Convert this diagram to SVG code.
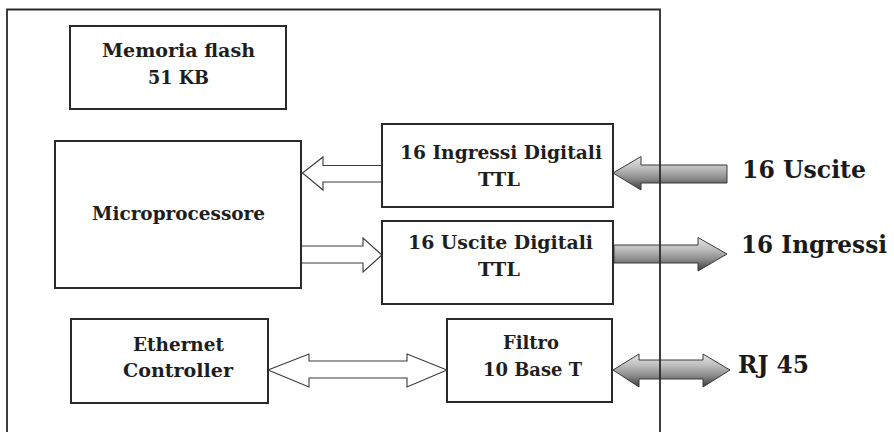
<svg xmlns="http://www.w3.org/2000/svg" width="894" height="432" viewBox="0 0 894 432">
  <defs>
    <style>
      .box { fill: #ffffff; stroke: #2a2a2a; stroke-width: 2; }
      .frame { fill: none; stroke: #2a2a2a; stroke-width: 1.8; }
      .hollow { fill: #ffffff; stroke: #3a3a3a; stroke-width: 1.1; stroke-linejoin: miter; }
      .solid { fill: url(#metal); stroke: #3a3a3a; stroke-width: 1; stroke-linejoin: miter; }
      .lbl { font-family: "DejaVu Serif", "Liberation Serif", serif; font-weight: bold; font-size: 19px; fill: #1e1e1e; text-anchor: middle; }
      .ext { font-family: "DejaVu Serif", "Liberation Serif", serif; font-weight: bold; font-size: 25px; fill: #1a1a1a; }
    </style>
    <linearGradient id="metal" x1="0" y1="0" x2="0" y2="1">
      <stop offset="0" stop-color="#e6e6e6"/>
      <stop offset="0.35" stop-color="#bdbdbd"/>
      <stop offset="0.65" stop-color="#8c8c8c"/>
      <stop offset="1" stop-color="#3c3c3c"/>
    </linearGradient>
  </defs>

  <rect width="894" height="432" fill="#ffffff"/>

  <!-- connectors -->
  <g id="connectors">
    <!-- inputs block to microprocessor -->
    <polygon class="hollow" points="382,165.5 323,165.5 323,157 302.5,173 323,190 323,182 382,182"/>
    <!-- microprocessor to outputs block -->
    <polygon class="hollow" points="301,246 363,246 363,238 382,255 363,272 363,263 301,263"/>
    <!-- ethernet controller to filter -->
    <polygon class="hollow" points="268,370 309,354 309,361 407,361 407,354 447,370 407,387 407,378 309,378 309,387"/>
    <!-- external lines -->
    <polygon class="solid" points="727,165 641,165 641,156.5 613,173 641,190 641,183 727,183"/>
    <polygon class="solid" points="614,245 698,245 698,237.5 727,254 698,271 698,263 614,263"/>
    <polygon class="solid" points="613,370 639,354 639,360 703,360 703,354 730,370 703,387 703,379 639,379 639,387"/>
  </g>

  <!-- enclosure outline -->
  <path class="frame" d="M7,432 V9.5 H660 V432"/>

  <g id="memoria-flash">
    <rect class="box" x="70" y="26" width="216" height="83"/>
    <text class="lbl" x="178.5" y="57" textLength="153" lengthAdjust="spacingAndGlyphs">Memoria flash</text>
    <text class="lbl" x="178.5" y="84" textLength="61" lengthAdjust="spacingAndGlyphs">51 KB</text>
  </g>

  <g id="microprocessore">
    <rect class="box" x="55" y="141" width="246" height="147"/>
    <text class="lbl" x="178.5" y="220" textLength="173" lengthAdjust="spacingAndGlyphs">Microprocessore</text>
  </g>

  <g id="ingressi-digitali">
    <rect class="box" x="382" y="124" width="231" height="83"/>
    <text class="lbl" x="501" y="159" textLength="202" lengthAdjust="spacingAndGlyphs">16 Ingressi Digitali</text>
    <text class="lbl" x="499" y="186" textLength="42" lengthAdjust="spacingAndGlyphs">TTL</text>
  </g>

  <g id="uscite-digitali">
    <rect class="box" x="382" y="221" width="231" height="83"/>
    <text class="lbl" x="500.5" y="249" textLength="185" lengthAdjust="spacingAndGlyphs">16 Uscite Digitali</text>
    <text class="lbl" x="499" y="276" textLength="42" lengthAdjust="spacingAndGlyphs">TTL</text>
  </g>

  <g id="ethernet-controller">
    <rect class="box" x="71" y="319" width="197" height="84"/>
    <text class="lbl" x="178.5" y="351" textLength="91" lengthAdjust="spacingAndGlyphs">Ethernet</text>
    <text class="lbl" x="178" y="377" textLength="110" lengthAdjust="spacingAndGlyphs">Controller</text>
  </g>

  <g id="filtro">
    <rect class="box" x="447" y="319" width="165" height="83"/>
    <text class="lbl" x="531" y="349" textLength="56" lengthAdjust="spacingAndGlyphs">Filtro</text>
    <text class="lbl" x="532.5" y="376" textLength="99" lengthAdjust="spacingAndGlyphs">10 Base T</text>
  </g>

  <g id="uscite-esterne">
    <text class="ext" x="742" y="178" textLength="124" lengthAdjust="spacingAndGlyphs">16 Uscite</text>
  </g>

  <g id="ingressi-esterni">
    <text class="ext" x="741" y="253" style="font-size:23.5px" textLength="146" lengthAdjust="spacingAndGlyphs">16 Ingressi</text>
  </g>

  <g id="rj45">
    <text class="ext" x="738" y="373" textLength="71" lengthAdjust="spacingAndGlyphs">RJ 45</text>
  </g>
</svg>
